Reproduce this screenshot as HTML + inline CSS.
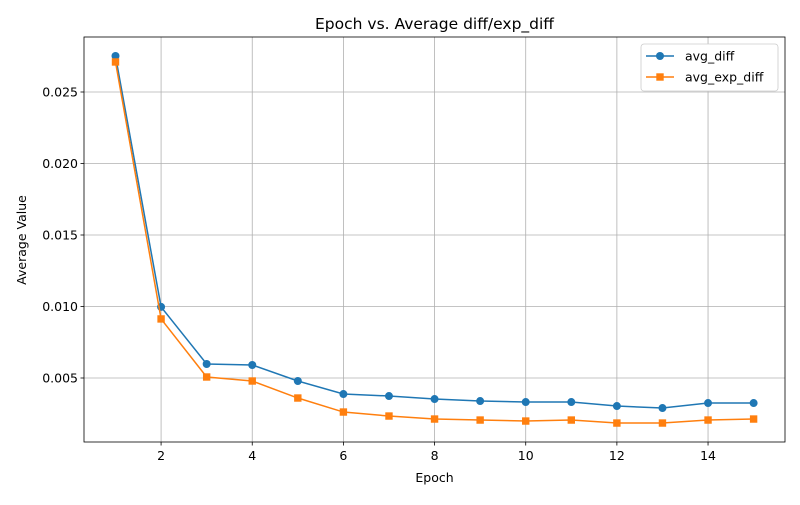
<!DOCTYPE html>
<html><head><meta charset="utf-8"><style>body{margin:0;background:#fff}svg{font-family:"DejaVu Sans","Liberation Sans",sans-serif}</style></head>
<body>
<svg id="chart" width="800" height="500"></svg>
<script>
const epochs=[1,2,3,4,5,6,7,8,9,10,11,12,13,14,15];
const avgDiff=[0.02752,0.00997,0.00598,0.00591,0.00479,0.00388,0.00374,0.00353,0.00339,0.00332,0.00332,0.00304,0.0029,0.00325,0.00325];
const avgExpDiff=[0.0271,0.00913,0.00507,0.00479,0.0036,0.00262,0.00234,0.00213,0.00206,0.00199,0.00206,0.00185,0.00185,0.00206,0.00213];
const xTicks=[2,4,6,8,10,12,14];
const yTicks=[0.005,0.010,0.015,0.020,0.025];
const yTickLabels=["0.005","0.010","0.015","0.020","0.025"];
const L=84,R=785,T=37,B=442;
const xs=v=>115.5+(v-1)*45.58;
const ys=v=>449.5-v*14300;
const svg=document.getElementById('chart');
const NS='http://www.w3.org/2000/svg';
function mk(tag,attrs,parent){const e=document.createElementNS(NS,tag);for(const k in attrs)e.setAttribute(k,attrs[k]);(parent||svg).appendChild(e);return e;}
xTicks.forEach(t=>{const x=xs(t);
const g=mk('line',{x1:x,x2:x,y1:T,y2:B,stroke:'#b0b0b0','stroke-width':0.8});

mk('line',{x1:x,x2:x,y1:B,y2:B+3.5,stroke:'#000','stroke-width':0.8});
const tx=mk('text',{x:x,y:B+18,'font-size':12.5,'text-anchor':'middle'});tx.textContent=t;
});
yTicks.forEach((t,i)=>{const y=ys(t);
const g=mk('line',{x1:L,x2:R,y1:y,y2:y,stroke:'#b0b0b0','stroke-width':0.8});

mk('line',{x1:L-3.5,x2:L,y1:y,y2:y,stroke:'#000','stroke-width':0.8});
const tx=mk('text',{x:L-6,y:y+4.5,'font-size':12.5,'text-anchor':'end'});tx.textContent=yTickLabels[i];
});
function series(vals,color,marker,name){
const p=mk('polyline',{points:vals.map((v,i)=>xs(epochs[i])+','+ys(v)).join(' '),fill:'none',stroke:color,'stroke-width':1.5});

vals.forEach((v,i)=>{const x=xs(epochs[i]),y=ys(v);let m;
if(marker==='o')m=mk('circle',{cx:x,cy:y,r:4,fill:color});
else m=mk('rect',{x:x-3.7,y:y-3.7,width:7.4,height:7.4,fill:color});
});}
series(avgDiff,'#1f77b4','o','avg-diff');
series(avgExpDiff,'#ff7f0e','s','avg-exp-diff');
const fr=mk('rect',{x:L,y:T,width:R-L,height:B-T,fill:'none',stroke:'#000','stroke-width':0.8});

const ti=mk('text',{x:(L+R)/2,y:29,'font-size':15.5,'text-anchor':'middle'});ti.textContent='Epoch vs. Average diff/exp_diff';

const xl=mk('text',{x:(L+R)/2,y:482,'font-size':12.5,'text-anchor':'middle'});xl.textContent='Epoch';

const yl=mk('text',{x:0,y:0,'font-size':12.5,'text-anchor':'middle',transform:'translate(26,240) rotate(-90)'});yl.textContent='Average Value';

const lg=mk('g',{});
mk('rect',{x:641,y:44,width:137,height:47,rx:3,fill:'#fff',stroke:'#ccc','stroke-width':0.8},lg);
[['avg_diff','#1f77b4','o',56],['avg_exp_diff','#ff7f0e','s',77]].forEach(([n,c,m,y])=>{
const e=mk('g',{},lg);
mk('line',{x1:646,x2:674,y1:y,y2:y,stroke:c,'stroke-width':1.5},e);
if(m==='o')mk('circle',{cx:660,cy:y,r:4,fill:c},e);else mk('rect',{x:656.3,y:y-3.7,width:7.4,height:7.4,fill:c},e);
const t=mk('text',{x:685,y:y+4.5,'font-size':12.5},e);t.textContent=n;});
</script>
</body></html>
